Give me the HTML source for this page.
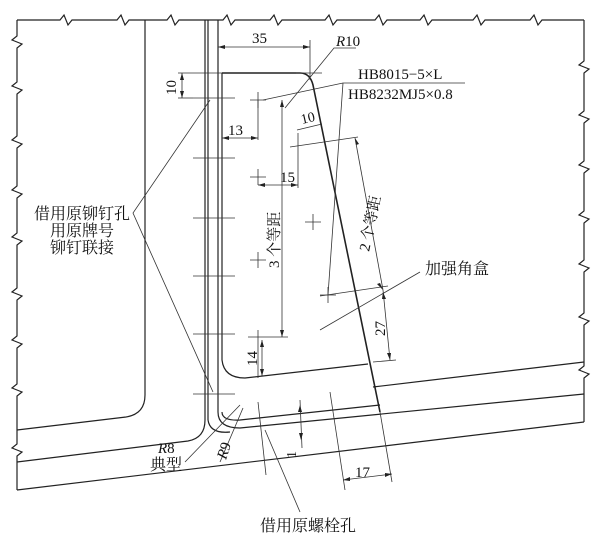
<!DOCTYPE html>
<html><head><meta charset="utf-8"><style>
html,body{margin:0;padding:0;background:#fff}
svg{display:block}
text{font-family:"Liberation Serif","Noto Serif CJK SC",serif;fill:#111}
.c{font-family:"Liberation Serif","Noto Serif CJK SC",serif}
</style></head><body>
<svg width="600" height="540" viewBox="0 0 600 540" xmlns="http://www.w3.org/2000/svg">
<g fill="none" stroke="#222" stroke-width="1.2">
<path d="M17,20 L60,20 L64,15 L68,25 L72,20 L117,20 L121,15 L125,25 L129,20 L167,20 L171,15 L175,25 L179,20 L223,20 L227,15 L231,25 L235,20 L270,20 L274,15 L278,25 L282,20 L325,20 L329,15 L333,25 L337,20 L375,20 L379,15 L383,25 L387,20 L420,20 L424,15 L428,25 L432,20 L473,20 L477,15 L481,25 L485,20 L530,20 L534,15 L538,25 L542,20 L584,20"/>
<path d="M17,20 L17,36 L12,40 L22,44 L17,48 L17,82 L12,86 L22,90 L17,94 L17,136 L12,140 L22,144 L17,148 L17,186 L12,190 L22,194 L17,198 L17,233 L12,237 L22,241 L17,245 L17,288 L12,292 L22,296 L17,300 L17,336 L12,340 L22,344 L17,348 L17,384 L12,388 L22,392 L17,396 L17,444 L12,448 L22,452 L17,456 L17,490"/>
<path d="M584,20 L584,61 L579,65 L589,69 L584,73 L584,111 L579,115 L589,119 L584,123 L584,161 L579,165 L589,169 L584,173 L584,211 L579,215 L589,219 L584,223 L584,260 L579,264 L589,268 L584,272 L584,313 L579,317 L589,321 L584,325 L584,366 L579,370 L589,374 L584,378 L584,422"/>
<path d="M145,20 L145,395 Q145,414 126,417 L17,430"/>
<path d="M205,20 L205,420 Q205,438 188,441 L17,462"/>
<line x1="208" y1="20" x2="208" y2="420"/>
<path d="M218,20 L218,412 Q218,428 240,428 L584,394"/>
<path d="M208,420 Q210,434 230,432"/>
<path d="M222,412 Q222,421 240,420 L380,405"/>
<line x1="17" y1="490" x2="584" y2="422"/>
<path d="M222,73 L300,73 Q310,73 313,85 L380,412" stroke-width="1.6"/>
<path d="M222,73 L222,360 Q224,378 245,378 L368,364"/>
<line x1="373" y1="387" x2="584" y2="362"/>
</g>
<g fill="none" stroke="#333" stroke-width="0.8">
<line x1="193" y1="98" x2="235" y2="98"/><line x1="193" y1="158" x2="235" y2="158"/>
<line x1="193" y1="218" x2="235" y2="218"/><line x1="193" y1="276" x2="235" y2="276"/>
<line x1="193" y1="334" x2="235" y2="334"/><line x1="193" y1="394" x2="235" y2="394"/>
<path d="M250,100 h16 M258,92 v16 M250,177 h16 M258,169 v16 M250,260 h16 M258,252 v16 M305,222 h16 M313,214 v16 M320,295 h16 M328,287 v16"/>
<line x1="218" y1="47" x2="310" y2="47"/><line x1="310" y1="40" x2="310" y2="80"/>
<line x1="296" y1="73" x2="322" y2="73"/>
<path d="M356,48 L334,48 L285,108"/>
<line x1="178" y1="73" x2="222" y2="73"/><line x1="178" y1="98" x2="193" y2="98"/>
<line x1="182" y1="73" x2="182" y2="98"/>
<line x1="258" y1="100" x2="258" y2="140"/><line x1="222" y1="138" x2="258" y2="138"/>
<path d="M263,100 L343,83 L465,83 M343,83 L328,295"/>
<line x1="282" y1="100" x2="282" y2="337"/><line x1="248" y1="337" x2="288" y2="337"/>
<line x1="258" y1="330" x2="258" y2="378"/><line x1="262" y1="340" x2="262" y2="376"/>
<line x1="298" y1="133" x2="298" y2="188"/><line x1="258" y1="185" x2="298" y2="185"/>
<line x1="290" y1="147" x2="358" y2="137"/><line x1="297" y1="130" x2="322" y2="124"/>
<line x1="355" y1="138" x2="383" y2="290"/>
<line x1="320" y1="296" x2="388" y2="286"/>
<line x1="383" y1="290" x2="390" y2="360"/><line x1="373" y1="362" x2="396" y2="360"/>
<line x1="420" y1="272" x2="320" y2="330"/>
<path d="M210,100 L133,213 L213,392"/>
<line x1="185" y1="462" x2="240" y2="405"/>
<line x1="220" y1="462" x2="243" y2="408"/>
<line x1="258" y1="402" x2="266" y2="475"/>
<line x1="300" y1="400" x2="302" y2="448"/>
<line x1="330" y1="392" x2="345" y2="490"/>
<line x1="380" y1="412" x2="392" y2="482"/>
<line x1="343" y1="480" x2="392" y2="474"/>
<line x1="265" y1="430" x2="300" y2="512"/>
</g>
<g fill="#222">
<path d="M218,47 l7,-2 v4z M310,47 l-7,-2 v4z"/>
<path d="M182,73 l-2,7 h4z M182,98 l-2,-7 h4z"/>
<path d="M222,138 l7,-2 v4z M258,138 l-7,-2 v4z"/>
<path d="M282,100 l-2,7 h4z M282,337 l-2,-7 h4z"/>
<path d="M262,340 l-2,7 h4z M262,376 l-2,-7 h4z"/>
<path d="M258,185 l7,-2 v4z M298,185 l-7,-2 v4z"/>
<path d="M355,138 l1,7 l3,-1z M383,290 l-3,-7 l-3,1z"/>
<path d="M383,292 l-1,7 h4z M390,360 l-3,-7 h4z"/>
<path d="M343,480 l7,-3 v4z M392,474 l-7,-1 v4z"/>
<path d="M300,405 l-2,7 h4z M301,440 l-2,-7 h4z"/>
</g>
<text x="252" y="43" font-size="15">35</text>
<text x="336" y="46" font-size="15" font-style="italic">R<tspan font-style="normal">10</tspan></text>
<text x="358" y="79" font-size="15">HB8015−5×L</text>
<text x="348" y="99" font-size="15">HB8232MJ5×0.8</text>
<text x="228" y="135" font-size="15">13</text>
<text x="280" y="182" font-size="15">15</text>
<text transform="translate(176,95) rotate(-90)" font-size="15">10</text>
<text transform="translate(302,124) rotate(-13)" font-size="14">10</text>
<text class="c" transform="translate(279,268) rotate(-90)" font-size="15">3 个等距</text>
<text class="c" transform="translate(369,252) rotate(-78)" font-size="15">2 个等距</text>
<text transform="translate(385,336) rotate(-90)" font-size="15">27</text>
<text transform="translate(257,366) rotate(-90)" font-size="15">14</text>
<text transform="translate(296,458) rotate(-90)" font-size="14">1</text>
<text x="355" y="477" font-size="15">17</text>
<text class="c" x="425" y="274" font-size="16">加强角盒</text>
<text class="c" x="82" y="219" font-size="16" text-anchor="middle">借用原铆钉孔</text>
<text class="c" x="82" y="236" font-size="16" text-anchor="middle">用原牌号</text>
<text class="c" x="82" y="253" font-size="16" text-anchor="middle">铆钉联接</text>
<text x="158" y="453" font-size="15" font-style="italic">R<tspan font-style="normal">8</tspan></text>
<text class="c" x="150" y="470" font-size="16">典型</text>
<text transform="translate(226,460) rotate(-72)" font-size="15" font-style="italic">R<tspan font-style="normal">9</tspan></text>
<text class="c" x="260" y="531" font-size="16">借用原螺栓孔</text>
</svg>
</body></html>
